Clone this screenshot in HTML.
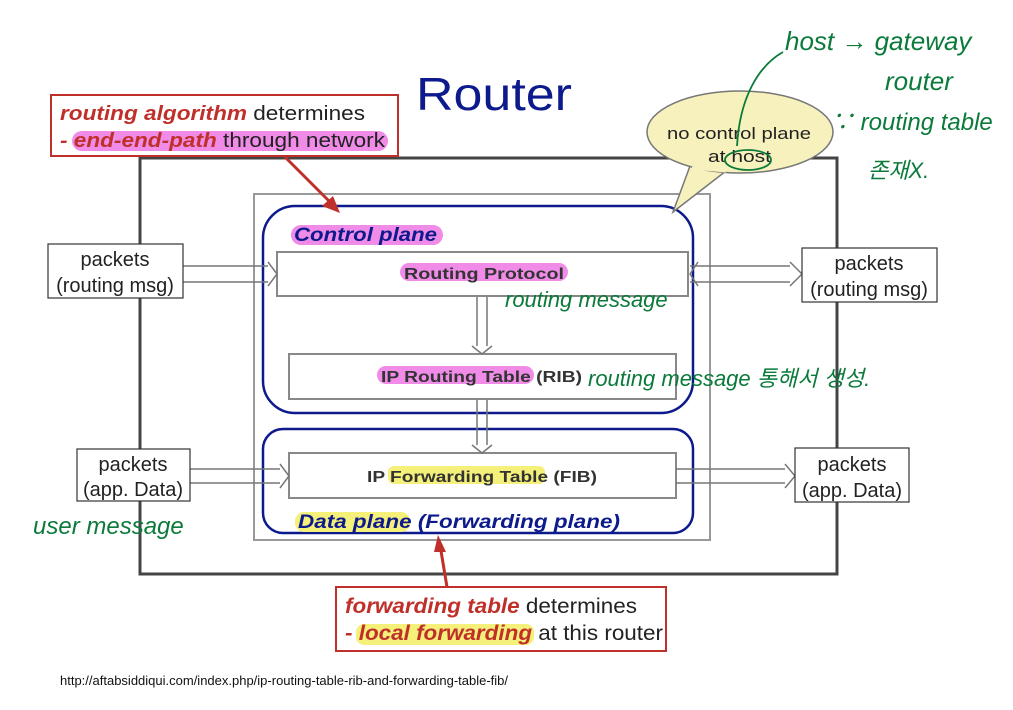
<!DOCTYPE html>
<html><head><meta charset="utf-8"><style>
html,body{margin:0;padding:0;background:#fff;width:1013px;height:710px;overflow:hidden}
svg{display:block}
text{font-family:"Liberation Sans","Noto Sans CJK KR",sans-serif}
</style></head><body>
<svg width="1013" height="710" viewBox="0 0 1013 710" xmlns="http://www.w3.org/2000/svg">
<text x="416" y="110" font-size="46" fill="#0c1a8c" textLength="156" lengthAdjust="spacingAndGlyphs">Router</text>
<rect x="140" y="158" width="697" height="416" fill="none" stroke="#444" stroke-width="3"/>
<rect x="254" y="194" width="456" height="346" fill="none" stroke="#999" stroke-width="2"/>
<rect x="263" y="206" width="430" height="207" rx="32" fill="#fff" stroke="#0c1a8c" stroke-width="2.5"/>
<rect x="263" y="429" width="430" height="104" rx="20" fill="#fff" stroke="#0c1a8c" stroke-width="2.5"/>
<rect x="277" y="252" width="411" height="44" fill="#fff" stroke="#888" stroke-width="2"/>
<rect x="289" y="354" width="387" height="45" fill="#fff" stroke="#888" stroke-width="2"/>
<rect x="289" y="453" width="387" height="45" fill="#fff" stroke="#888" stroke-width="2"/>
<g stroke="#777" stroke-width="1.5" fill="none">
<path d="M477 297 V346 M487 297 V346 M472 346 L482 354 L492 346"/>
<path d="M477 400 V445 M487 400 V445 M472 445 L482 453 L492 445"/>
<path d="M183 266 H268 M183 282 H268 M268 262 L277 274 L268 286"/>
<path d="M690 266 H790 M690 282 H790 M790 262 L802 274 L790 286 M698 262 L690 274 L698 286"/>
<path d="M190 469 H280 M190 483 H280 M280 464 L289 476 L280 488"/>
<path d="M676 469 H785 M676 483 H785 M785 464 L795 476 L785 488"/>
</g>
<rect x="291" y="225" width="152" height="20" rx="10" fill="#f08be8"/>
<text x="294" y="241" font-size="19" font-weight="bold" font-style="italic" fill="#0c1a8c" textLength="143" lengthAdjust="spacingAndGlyphs">Control plane</text>
<rect x="400" y="263" width="168" height="18" rx="9" fill="#f08be8"/>
<text x="404" y="279" font-size="16" font-weight="bold" fill="#333" textLength="160" lengthAdjust="spacingAndGlyphs">Routing Protocol</text>
<rect x="377" y="366" width="157" height="18" rx="9" fill="#f08be8"/>
<text x="381" y="382" font-size="16" font-weight="bold" fill="#333" textLength="201" lengthAdjust="spacingAndGlyphs">IP Routing Table (RIB)</text>
<rect x="388" y="466" width="157" height="18" rx="6" fill="#f5f07a"/>
<text x="367" y="482" font-size="16" font-weight="bold" fill="#333" textLength="230" lengthAdjust="spacingAndGlyphs">IP Forwarding Table (FIB)</text>
<rect x="295" y="512" width="115" height="20" rx="9" fill="#f5f07a"/>
<text x="298" y="528" font-size="19" font-weight="bold" font-style="italic" fill="#0c1a8c" textLength="322" lengthAdjust="spacingAndGlyphs">Data plane (Forwarding plane)</text>
<g fill="#fff" stroke="#333" stroke-width="1.2">
<rect x="48" y="244" width="135" height="54"/>
<rect x="802" y="248" width="135" height="54"/>
<rect x="77" y="449" width="113" height="52"/>
<rect x="795" y="448" width="114" height="54"/>
</g>
<g font-size="20" fill="#222" text-anchor="middle">
<text x="115" y="266">packets</text><text x="115" y="292">(routing msg)</text>
<text x="869" y="270">packets</text><text x="869" y="296">(routing msg)</text>
<text x="133" y="471">packets</text><text x="133" y="496">(app. Data)</text>
<text x="852" y="471">packets</text><text x="852" y="497">(app. Data)</text>
</g>
<rect x="51" y="95" width="347" height="61" fill="#fff" stroke="#c0302a" stroke-width="2"/>
<rect x="72" y="131" width="316" height="20" rx="10" fill="#f08be8"/>
<text x="60" y="120" font-size="20" fill="#222" textLength="305" lengthAdjust="spacingAndGlyphs"><tspan font-weight="bold" font-style="italic" fill="#c0302a">routing algorithm</tspan> determines</text>
<text x="60" y="147" font-size="20" fill="#222" textLength="325" lengthAdjust="spacingAndGlyphs"><tspan font-weight="bold" font-style="italic" fill="#c0302a">- end-end-path</tspan> through network</text>
<path d="M285 157 L335 207" stroke="#c0302a" stroke-width="3"/>
<path d="M340 213 L322 206 L333 196 Z" fill="#c0302a"/>
<rect x="336" y="587" width="330" height="64" fill="#fff" stroke="#c0302a" stroke-width="2"/>
<rect x="356" y="624" width="178" height="21" rx="8" fill="#f5f07a"/>
<text x="345" y="613" font-size="21" fill="#222" textLength="292" lengthAdjust="spacingAndGlyphs"><tspan font-weight="bold" font-style="italic" fill="#c0302a">forwarding table</tspan> determines</text>
<text x="345" y="640" font-size="21" fill="#222" textLength="318" lengthAdjust="spacingAndGlyphs"><tspan font-weight="bold" font-style="italic" fill="#c0302a">- local forwarding</tspan> at this router</text>
<path d="M447 587 L440 545" stroke="#c0302a" stroke-width="3"/>
<path d="M438 535 L446 552 L434 552 Z" fill="#c0302a"/>
<path d="M690 166 L673 212 L726 171 Z" fill="#f7f1bd" stroke="#777" stroke-width="1.5"/>
<ellipse cx="740" cy="132" rx="93" ry="41" fill="#f7f1bd" stroke="#777" stroke-width="1.5"/>
<path d="M692 168 L726 171" stroke="#f7f1bd" stroke-width="3"/>
<text x="667" y="139" font-size="17" fill="#222" textLength="144" lengthAdjust="spacingAndGlyphs">no control plane</text>
<text x="708" y="162" font-size="17" fill="#222" textLength="63" lengthAdjust="spacingAndGlyphs">at host</text>
<g fill="none" stroke="#0b7a3a" stroke-width="1.8">
<ellipse cx="748" cy="160" rx="23" ry="10"/>
<path d="M783 52 C760 65 740 95 737 146"/>
</g>
<g fill="#0b7a3a" font-style="italic" font-family="'Liberation Serif','Noto Sans CJK KR',serif">
<text x="785" y="50" font-size="26">host → gateway</text>
<text x="885" y="90" font-size="26">router</text>
<text x="830" y="130" font-size="24">∵ routing table</text>
<text x="868" y="178" font-size="22">존재X.</text>
<text x="505" y="307" font-size="22">routing message</text>
<text x="588" y="386" font-size="22">routing message 통해서 생성.</text>
<text x="33" y="534" font-size="24">user message</text>
</g>
<text x="60" y="685" font-size="13" fill="#111">http://aftabsiddiqui.com/index.php/ip-routing-table-rib-and-forwarding-table-fib/</text>
</svg>
</body></html>
